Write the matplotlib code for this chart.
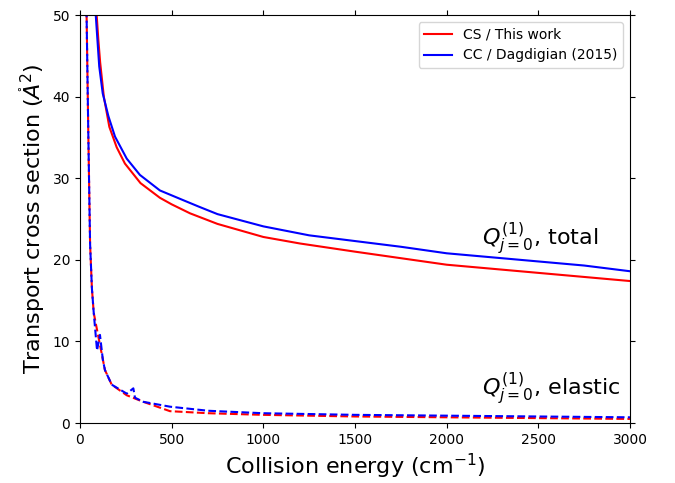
import matplotlib
matplotlib.use("Agg")
import matplotlib.pyplot as plt

# Total transport cross sections
cs_total_E = [91, 100, 110, 130, 160, 200, 245, 330, 436, 500, 600, 750, 1000, 1200, 1500, 2000, 2500, 3000]
cs_total_Q = [50, 47.0, 44.2, 40.0, 36.3, 33.8, 31.8, 29.4, 27.6, 26.8, 25.7, 24.4, 22.8, 22.0, 21.0, 19.4, 18.4, 17.4]

cc_total_E = [86, 95, 105, 124, 155, 191, 255, 327, 436, 564, 650, 750, 850, 1000, 1250, 1500, 1750, 2000, 2250, 2500, 2750, 3000]
cc_total_Q = [50, 47.0, 43.7, 40.4, 37.6, 35.1, 32.4, 30.4, 28.5, 27.3, 26.5, 25.6, 25.0, 24.1, 23.0, 22.3, 21.6, 20.8, 20.3, 19.8, 19.3, 18.6]

# Elastic transport cross sections
cs_el_E = [36, 45, 55, 65, 75, 100, 136, 173, 255, 345, 491, 700, 1000, 1500, 2000, 2500, 3000]
cs_el_Q = [50, 36, 22.0, 16.5, 13.5, 10.6, 6.5, 4.7, 3.4, 2.6, 1.45, 1.2, 1.0, 0.8, 0.7, 0.6, 0.5]

cc_el_E = [36, 45, 55, 65, 75, 93, 109, 125, 136, 173, 255, 291, 300, 345, 491, 700, 1000, 1500, 2000, 2500, 3000]
cc_el_Q = [50, 36, 22.0, 16.5, 13.5, 8.9, 10.8, 7.7, 6.5, 4.7, 3.6, 4.25, 3.1, 2.6, 2.0, 1.5, 1.2, 1.0, 0.9, 0.8, 0.7]

fig = plt.figure(figsize=(6.75, 4.83), dpi=100)
ax = fig.add_axes([0.1185, 0.1242, 0.8148, 0.8447])

ax.plot(cs_total_E, cs_total_Q, color='red', lw=1.5, label='CS / This work')
ax.plot(cc_total_E, cc_total_Q, color='blue', lw=1.5, label='CC / Dagdigian (2015)')
ax.plot(cs_el_E, cs_el_Q, color='red', lw=1.5, ls='--')
ax.plot(cc_el_E, cc_el_Q, color='blue', lw=1.5, ls=(2.6, (3.7, 1.6)))

ax.set_xlim(0, 3000)
ax.set_ylim(0, 50)
ax.tick_params(top=True, right=True, labelsize=10)
ax.set_xlabel(r'Collision energy (cm$^{-1}$)', fontsize=16)
ax.set_ylabel(r'Transport cross section ($\mathring{A}^2$)', fontsize=16)

ax.text(2193, 22.6, r'$Q^{(1)}_{j=0}$, total', fontsize=16, ha='left', va='center')
ax.text(2193, 4.2, r'$Q^{(1)}_{j=0}$, elastic', fontsize=16, ha='left', va='center')

ax.legend(loc='upper right', fontsize=10)

fig.savefig('out.png', dpi=100)
